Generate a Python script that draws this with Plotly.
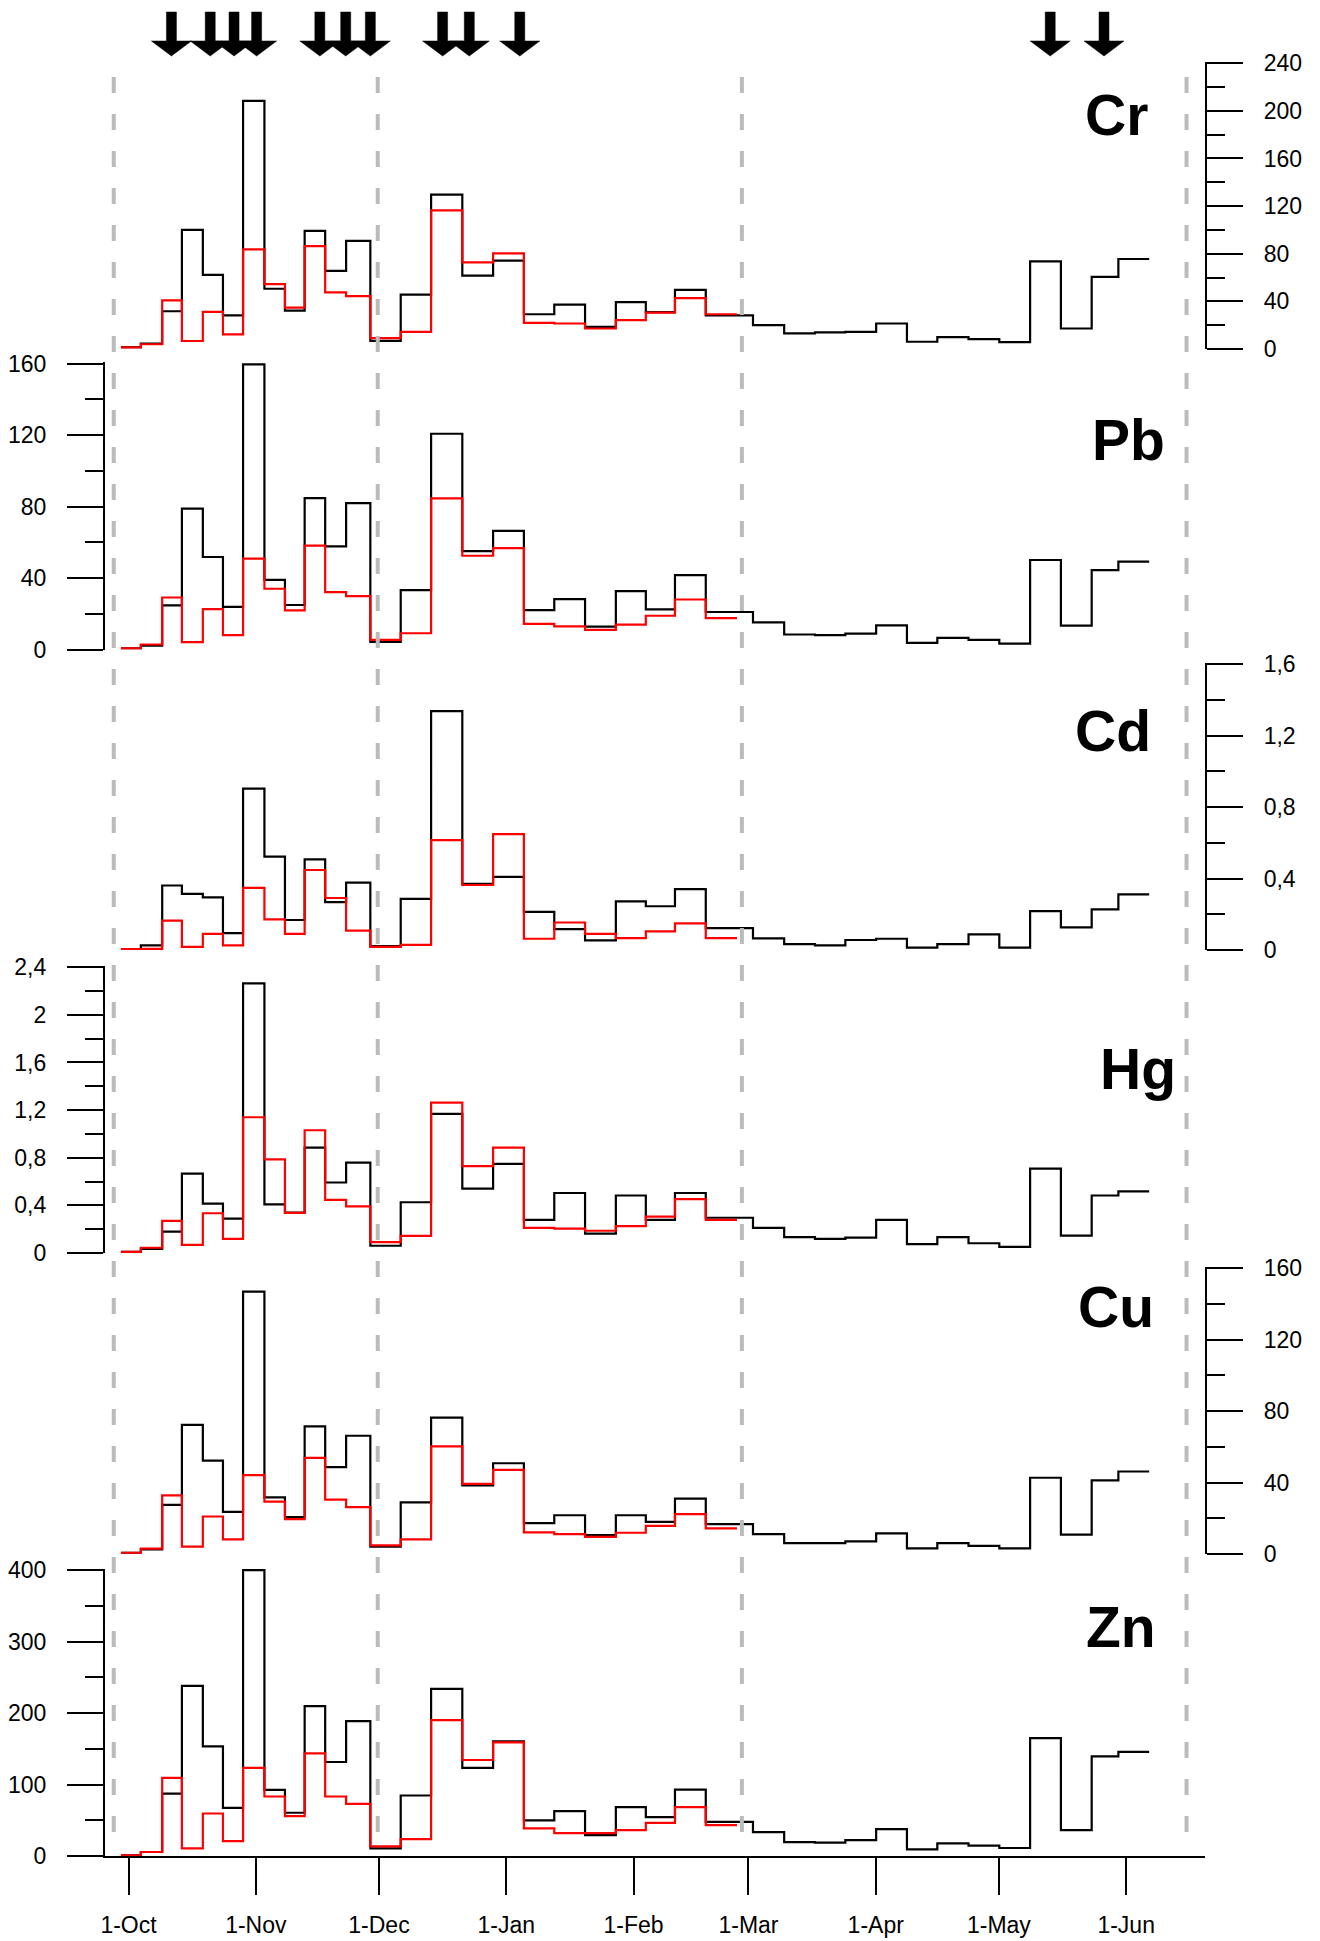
import plotly.graph_objects as go

# ---------------------------------------------------------------- data
# Sampling-interval edges, in days since 1 October
edges_black = [-1.85, 3.0, 8.2, 13.0, 18.1, 23.0, 27.9, 33.1, 38.1, 42.9, 47.9, 53.0,
               58.9, 66.3, 73.7, 81.3, 88.8, 96.3, 103.7, 111.2, 118.7, 126.0, 133.1,
               140.6, 152.1, 159.7, 167.2, 174.6, 182.1, 189.6, 197.0, 204.6, 212.1,
               219.6, 227.1, 234.6, 241.1, 248.6]
edges_red = [-1.85, 3.0, 8.2, 13.0, 18.1, 23.0, 27.9, 33.1, 38.1, 42.9, 47.9, 53.0,
             58.9, 66.3, 73.7, 81.3, 88.8, 96.3, 103.7, 111.2, 118.7, 126.0, 133.1,
             140.6, 148.2]

cr_black = [1.5, 4.5, 31.7, 100, 62.2, 28.3, 208.3, 50.6, 32.2, 99.2, 65.6, 90.8, 6.9,
            45.6, 129.7, 61.7, 74.2, 29.2, 37.2, 18.6, 39.4, 31, 49.7, 28.3, 20, 13.1,
            13.9, 14.4, 21.4, 6.1, 10, 8.3, 5.8, 73.6, 17.2, 60.6, 75.6]
cr_red = [1.4, 4.0, 40.8, 6.7, 31.1, 12.2, 83.6, 54.4, 34.7, 86.4, 47.5, 44.4, 9.2, 14.4,
          116.4, 72.8, 80.3, 21.9, 21.4, 17.2, 24.2, 30.5, 42.8, 29.2]

pb_black = [0.6, 2.2, 24.7, 78.9, 51.8, 23.9, 159.6, 39.0, 24.9, 84.8, 57.7, 82.0, 4.3,
            33.2, 120.8, 55.1, 66.4, 22.1, 28.2, 12.8, 32.7, 22.5, 41.6, 21.0, 15.2, 8.4,
            8.0, 8.9, 13.5, 3.7, 6.5, 5.4, 3.3, 50.1, 13.4, 44.4, 49.2]
pb_red = [0.6, 2.8, 29.1, 4.1, 22.6, 8.0, 50.9, 34.0, 21.9, 58.1, 32.1, 29.9, 5.4, 9.1,
          84.6, 52.5, 56.8, 14.3, 13.0, 11.0, 13.9, 18.9, 28.0, 17.6]

cd_black = [0.005, 0.026, 0.361, 0.314, 0.295, 0.095, 0.904, 0.523, 0.168, 0.507, 0.268,
            0.377, 0.022, 0.286, 1.337, 0.371, 0.409, 0.213, 0.117, 0.054, 0.272, 0.245,
            0.341, 0.122, 0.065, 0.033, 0.026, 0.056, 0.063, 0.013, 0.033, 0.088, 0.013,
            0.218, 0.127, 0.227, 0.311]
cd_red = [0.005, 0.006, 0.165, 0.017, 0.090, 0.026, 0.348, 0.172, 0.090, 0.448, 0.291,
          0.108, 0.017, 0.029, 0.615, 0.364, 0.649, 0.063, 0.154, 0.090, 0.067, 0.104,
          0.149, 0.067]

hg_black = [0.010, 0.034, 0.180, 0.667, 0.415, 0.289, 2.264, 0.409, 0.340, 0.885, 0.592,
            0.759, 0.061, 0.426, 1.168, 0.541, 0.749, 0.279, 0.504, 0.163, 0.483, 0.279,
            0.504, 0.296, 0.211, 0.133, 0.119, 0.129, 0.279, 0.075, 0.133, 0.082, 0.051,
            0.708, 0.146, 0.483, 0.517]
hg_red = [0.010, 0.044, 0.269, 0.068, 0.334, 0.119, 1.140, 0.786, 0.337, 1.031, 0.446,
          0.391, 0.092, 0.143, 1.263, 0.729, 0.885, 0.211, 0.204, 0.187, 0.225, 0.306,
          0.453, 0.279]

cu_black = [0.7, 2.6, 27.5, 72.3, 52.3, 23.6, 146.9, 31.7, 20.6, 71.4, 48.6, 66.2, 4.1,
            28.9, 76.4, 38.4, 50.8, 17.3, 21.7, 10.6, 21.7, 18.0, 31.0, 16.7, 11.1, 6.1,
            6.1, 7.1, 11.5, 3.2, 6.1, 4.6, 3.2, 42.7, 10.8, 41.2, 46.2]
cu_red = [0.7, 3.0, 32.8, 4.1, 21.0, 8.2, 44.2, 29.3, 19.5, 53.8, 30.4, 26.2, 4.8, 8.2,
          60.3, 39.3, 47.1, 12.1, 11.1, 9.6, 11.9, 15.8, 22.3, 14.3]

zn_black = [0.9, 5.6, 87.4, 238.1, 153.5, 67.4, 400, 92.6, 60.5, 209.8, 131.6, 188.8,
            10.7, 84.7, 234.0, 123.3, 160.5, 49.8, 62.8, 29.3, 68.4, 54.4, 93.0, 47.9,
            33.5, 19.5, 18.6, 22.3, 37.7, 9.3, 17.7, 14.4, 11.2, 165.1, 36.3, 139.5, 145.6]
zn_red = [0.9, 5.6, 109.3, 10.7, 59.5, 20.9, 123.3, 83.3, 55.8, 143.7, 83.3, 73.0, 13.5,
          23.7, 190.2, 134.4, 159.1, 38.6, 32.1, 32.1, 36.3, 46.5, 68.4, 43.3]

# Month ticks (days since 1 October)
month_days = [0, 31, 61, 92, 123, 151, 182, 212, 243]
month_labels = ["1-Oct", "1-Nov", "1-Dec", "1-Jan", "1-Feb", "1-Mar", "1-Apr", "1-May", "1-Jun"]

# Season boundaries and event markers (days since 1 October)
season_days = [-3.6, 60.7, 149.4, 257.7]
event_days = [10.45, 19.9, 25.7, 31.2, 46.6, 52.9, 58.9, 76.5, 83.0, 95.3, 224.5, 237.6]

# y tick labels
cr_ticks = [0, 40, 80, 120, 160, 200, 240]
cr_labels = ["0", "40", "80", "120", "160", "200", "240"]
pb_ticks = [0, 40, 80, 120, 160]
pb_labels = ["0", "40", "80", "120", "160"]
cd_ticks = [0, 0.4, 0.8, 1.2, 1.6]
cd_labels = ["0", "0,4", "0,8", "1,2", "1,6"]
hg_ticks = [0, 0.4, 0.8, 1.2, 1.6, 2.0, 2.4]
hg_labels = ["0", "0,4", "0,8", "1,2", "1,6", "2", "2,4"]
cu_ticks = [0, 40, 80, 120, 160]
cu_labels = ["0", "40", "80", "120", "160"]
zn_ticks = [0, 100, 200, 300, 400]
zn_labels = ["0", "100", "200", "300", "400"]

# ---------------------------------------------------------------- layout geometry
W, H = 1320, 1941
ML, MR, MT, MB = 105, 115, 0, 85
PLOT_W = W - ML - MR
PLOT_H = H - MT - MB
X_RANGE = [-5.73, 262.2]
PX_PER_DAY = PLOT_W / (X_RANGE[1] - X_RANGE[0])
AXIS_H = 287.5
FONT = "Arial, Liberation Sans, sans-serif"


def yfrac(py):
    """page pixel row -> paper fraction"""
    return (H - MB - py) / PLOT_H


def xfrac(px):
    return (px - ML) / PLOT_W


panels = [
    dict(name="Cr", black=cr_black, red=cr_red, side="right", vmax=240, minor=20,
         ticks=cr_ticks, labels=cr_labels, bottom=349, lab=(1116, 115)),
    dict(name="Pb", black=pb_black, red=pb_red, side="left", vmax=160, minor=20,
         ticks=pb_ticks, labels=pb_labels, bottom=649.5, lab=(1128, 440)),
    dict(name="Cd", black=cd_black, red=cd_red, side="right", vmax=1.6, minor=0.2,
         ticks=cd_ticks, labels=cd_labels, bottom=950, lab=(1113, 731)),
    dict(name="Hg", black=hg_black, red=hg_red, side="left", vmax=2.4, minor=0.2,
         ticks=hg_ticks, labels=hg_labels, bottom=1253, lab=(1138, 1069)),
    dict(name="Cu", black=cu_black, red=cu_red, side="right", vmax=160, minor=20,
         ticks=cu_ticks, labels=cu_labels, bottom=1554, lab=(1116, 1307)),
    dict(name="Zn", black=zn_black, red=zn_red, side="left", vmax=400, minor=50,
         ticks=zn_ticks, labels=zn_labels, bottom=1856, lab=(1121, 1627)),
]

fig = go.Figure()
layout = dict(
    width=W, height=H,
    margin=dict(l=ML, r=MR, t=MT, b=MB, autoexpand=False),
    paper_bgcolor="white", plot_bgcolor="white",
    showlegend=False,
    font=dict(family=FONT, color="black", size=23),
    xaxis=dict(
        domain=[0, 1], range=X_RANGE, anchor="y6",
        showline=True, linecolor="black", linewidth=2.2,
        ticks="outside", ticklen=37, tickwidth=2.2, tickcolor="black",
        tickmode="array", tickvals=month_days, ticktext=month_labels,
        showgrid=False, zeroline=False, ticklabelstandoff=10,
        tickfont=dict(family=FONT, size=23, color="black"),
    ),
)

annotations = []
for i, p in enumerate(panels):
    ykey = "yaxis" if i == 0 else f"yaxis{i + 1}"
    yref = "y" if i == 0 else f"y{i + 1}"
    layout[ykey] = dict(
        domain=[yfrac(p["bottom"]), yfrac(p["bottom"] - AXIS_H)],
        range=[0, p["vmax"] * 1.006], anchor="x", side=p["side"],
        showline=True, linecolor="black", linewidth=2.2,
        ticks="outside", ticklen=36, tickwidth=2.2, tickcolor="black",
        tickmode="array", tickvals=p["ticks"], ticktext=p["labels"],
        minor=dict(ticks="outside", ticklen=18, tickwidth=2.2, tickcolor="black",
                   tickmode="linear", tick0=0, dtick=p["minor"], showgrid=False),
        showgrid=False, zeroline=False, ticklabelstandoff=16,
        tickfont=dict(family=FONT, size=23, color="black"),
    )
    fig.add_trace(go.Scatter(
        x=edges_black, y=p["black"] + [p["black"][-1]], yaxis=yref, xaxis="x",
        mode="lines", line=dict(color="black", width=2.2, shape="hv"),
        hoverinfo="skip"))
    fig.add_trace(go.Scatter(
        x=edges_red, y=p["red"] + [p["red"][-1]], yaxis=yref, xaxis="x",
        mode="lines", line=dict(color="#FF0000", width=2.2, shape="hv"),
        hoverinfo="skip"))
    annotations.append(dict(
        text=f"<b>{p['name']}</b>", xref="paper", yref="paper",
        x=xfrac(p["lab"][0]), y=yfrac(p["lab"][1]),
        xanchor="center", yanchor="middle", showarrow=False,
        font=dict(family=FONT, size=57, color="black")))

shapes = []
# dashed season boundaries
for d in season_days:
    shapes.append(dict(type="line", xref="x", yref="paper", x0=d, x1=d,
                       y0=yfrac(77), y1=yfrac(1848), layer="above",
                       line=dict(color="#BBBBBB", width=4, dash="16px,21px")))

# event arrows along the top
hs = 5 / PX_PER_DAY     # half shaft width
hh = 20 / PX_PER_DAY    # half head width
yt, yb, ytip = yfrac(12), yfrac(41), yfrac(56)
for d in event_days:
    path = (f"M {d - hs},{yt} L {d + hs},{yt} L {d + hs},{yb} L {d + hh},{yb} "
            f"L {d},{ytip} L {d - hh},{yb} L {d - hs},{yb} Z")
    shapes.append(dict(type="path", xref="x", yref="paper", path=path,
                       fillcolor="black", line=dict(color="black", width=0.5),
                       layer="above"))

layout["shapes"] = shapes
layout["annotations"] = annotations
fig.update_layout(**layout)

fig.write_html("out.html")
